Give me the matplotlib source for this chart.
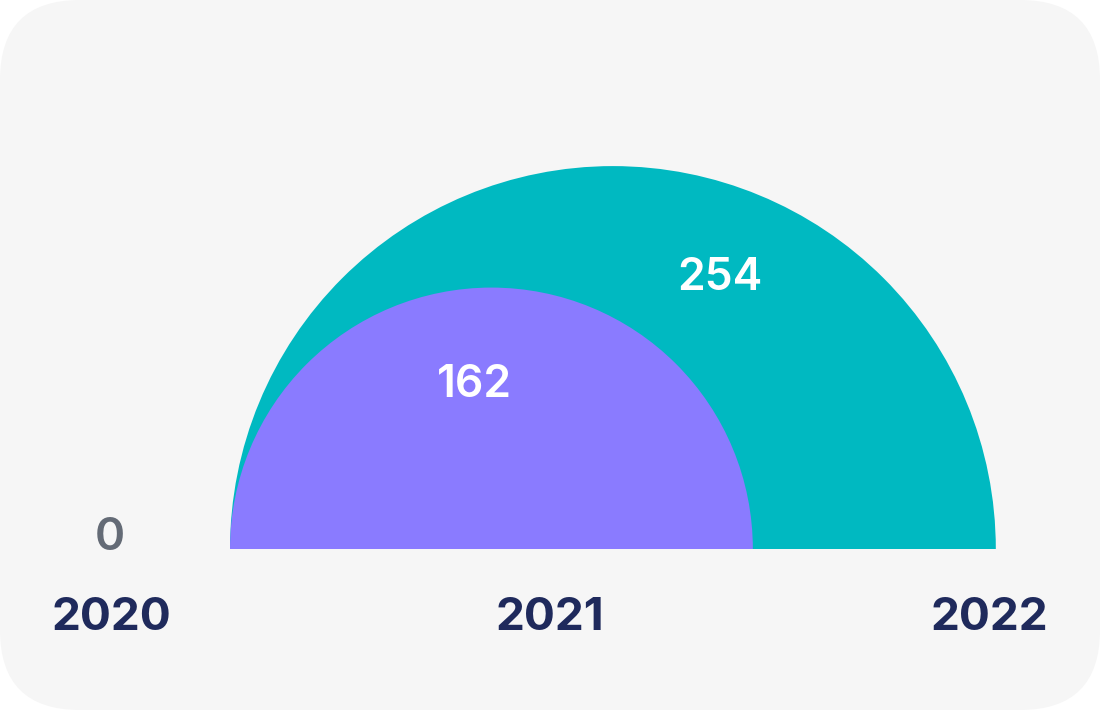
import matplotlib
matplotlib.use("Agg")
import matplotlib.pyplot as plt
from matplotlib.patches import Wedge, FancyBboxPatch

years = ["2020", "2021", "2022"]
values = [0, 162, 254]
colors = ["#6b7280", "#8a7bff", "#00b9c1"]

W, H = 1100, 710
fig = plt.figure(figsize=(W / 100, H / 100), dpi=100)
fig.patch.set_facecolor("white")
ax = fig.add_axes([0, 0, 1, 1])
ax.set_xlim(0, W)
ax.set_ylim(H, 0)
ax.axis("off")

# rounded background card
ax.add_patch(FancyBboxPatch((0, 0), W, H,
                            boxstyle="round,pad=0,rounding_size=80",
                            fc="#f6f6f6", ec="none"))

# scales
baseline = 549
left_edge = 230
d0, k = 95.0, 2.641          # diameter = d0 + k * value
cat_x0, cat_step = 111, 439  # category label positions

# draw largest first (y axis inverted -> upper half is 180..360)
order = sorted(range(len(values)), key=lambda i: -values[i])
for i in order:
    v = values[i]
    if v <= 0:
        continue
    r = (d0 + k * v) / 2
    cx = left_edge + r
    ax.add_patch(Wedge((cx, baseline), r, 180, 360, fc=colors[i], ec="none"))

# value labels
label_offsets = {1: (-17, -152), 2: (107, -259)}
for i, v in enumerate(values):
    if v <= 0:
        ax.text(cat_x0 + cat_step * i - 1, baseline + 1, f"{v}", ha="center", va="baseline",
                fontsize=33, fontweight="semibold", color="#646b76", family="Inter")
        continue
    r = (d0 + k * v) / 2
    cx = left_edge + r
    dx, dy = label_offsets[i]
    ax.text(cx + dx, baseline + dy, f"{v}", ha="center", va="baseline",
            fontsize=32, fontweight="semibold", color="white", family="Inter")

# category labels
for i, y in enumerate(years):
    ax.text(cat_x0 + cat_step * i, 630, y, ha="center", va="baseline",
            fontsize=33, fontweight="bold", color="#1f2a5c", family="Inter")

fig.savefig("out.png", dpi=100, facecolor="white")
